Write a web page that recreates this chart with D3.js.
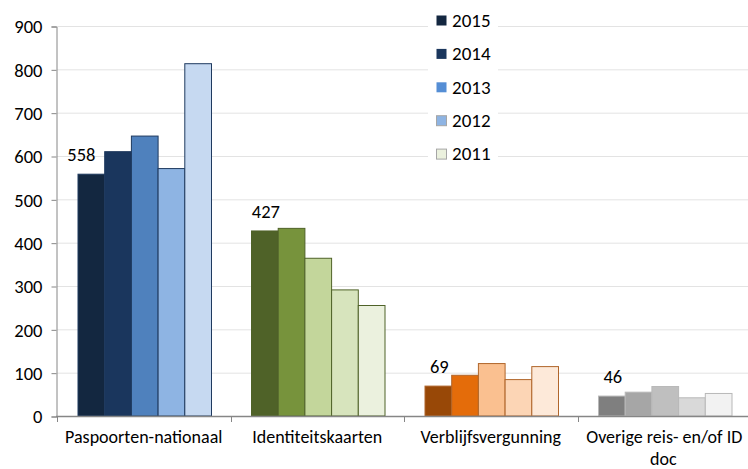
<!DOCTYPE html>
<html>
<head>
<meta charset="utf-8">
<script src="https://cdn.jsdelivr.net/npm/d3@7"></script>
<style>
  body { margin: 0; background: #fff; }
  svg text { font-family: Carlito, "Liberation Sans", Arial, sans-serif; fill: #000; }
</style>
</head>
<body>
<script>

var categories = ["Paspoorten-nationaal", "Identiteitskaarten", "Verblijfsvergunning", "Overige reis- en/of ID doc"];
var years = ["2015", "2014", "2013", "2012", "2011"];
// values per category, in year order 2015..2011
var paspoorten = [558, 610, 646, 571, 813];
var identiteit = [427, 433, 364, 291, 255];
var verblijf = [69, 94, 121, 84, 114];
var overige = [46, 55, 68, 42, 52];
var yTicks = [0, 100, 200, 300, 400, 500, 600, 700, 800, 900];

var groupColors = [
    ["#132740", "#1a365d", "#4f81bd", "#8eb4e3", "#c6d9f1"],
    ["#4f6228", "#77933c", "#c3d69b", "#d7e4bd", "#ebf1de"],
    ["#984807", "#e46c0a", "#fac090", "#fcd5b5", "#fde9d9"],
    ["#7f7f7f", "#a6a6a6", "#bfbfbf", "#d9d9d9", "#f2f2f2"]
];
var groupStroke = ["#1f3a5f", "#4f6228", "#b0652a", "#b8b8b8"];
var legendColors = ["#132740", "#1a365d", "#558ed5", "#8eb4e3", "#ebf1de"];
var legendStroke = ["none", "none", "none", "#a6a6a6", "#a6a6a6"];

var rows = [paspoorten, identiteit, verblijf, overige];

var w = 748, h = 469;
var fs = "18.5px";
var svg = d3.select("body")
    .append("svg")
    .attr("width", w)
    .attr("height", h);

var xScale = d3.scaleBand()
    .domain(categories)
    .range([57, 751]);

var xInner = d3.scaleBand()
    .domain(years)
    .range([21, 21 + 133.5]);

var yScale = d3.scaleLinear()
    .domain([0, 900])
    .range([416, 26]);

// gridlines
svg.selectAll("line.grid")
    .data(yTicks.slice(1))
    .enter()
    .append("line")
    .attr("x1", 57)
    .attr("x2", w)
    .attr("y1", function(d) { return yScale(d) + 0.5; })
    .attr("y2", function(d) { return yScale(d) + 0.5; })
    .attr("stroke", "#e3e3e3")
    .attr("stroke-width", 1);

// y axis
var yAxis = d3.axisLeft(yScale)
    .tickValues(yTicks)
    .tickSize(5)
    .tickPadding(9);
var gy = svg.append("g")
    .attr("transform", "translate(56.5,0.5)")
    .call(yAxis);
gy.selectAll("path, line").attr("stroke", "#868686");
gy.selectAll("text")
    .style("font-size", fs)
    .attr("dy", "0.35em");

// bars
var groups = svg.selectAll("g.cat")
    .data(rows)
    .enter()
    .append("g")
    .attr("class", "cat")
    .attr("transform", function(d, i) { return "translate(" + xScale(categories[i]) + ",0)"; });

groups.each(function(vals, gi) {
    d3.select(this).selectAll("rect")
        .data(vals)
        .enter()
        .append("rect")
        .attr("x", function(d, i) { return xInner(years[i]); })
        .attr("y", function(d) { return yScale(d); })
        .attr("width", xInner.bandwidth())
        .attr("height", function(d) { return yScale(0) - yScale(d); })
        .attr("fill", function(d, i) { return groupColors[gi][i]; })
        .attr("stroke", groupStroke[gi])
        .attr("stroke-width", 1);

    // label on the 2015 bar
    d3.select(this).append("text")
        .attr("x", xInner(years[0]) + xInner.bandwidth() / 2 + (gi === 0 ? -10 : 1))
        .attr("y", yScale(vals[0]) - 13)
        .attr("text-anchor", "middle")
        .style("font-size", fs)
        .text(vals[0]);
});

// x axis
svg.append("line")
    .attr("x1", 56).attr("x2", w)
    .attr("y1", 416.5).attr("y2", 416.5)
    .attr("stroke", "#868686")
    .attr("stroke-width", 1.5);

svg.selectAll("line.xtick")
    .data(categories)
    .enter()
    .append("line")
    .attr("x1", function(d) { return Math.round(xScale(d)) + 0.5; })
    .attr("x2", function(d) { return Math.round(xScale(d)) + 0.5; })
    .attr("y1", 416)
    .attr("y2", 422)
    .attr("stroke", "#868686");

var xl = svg.selectAll("text.xlab")
    .data(categories)
    .enter()
    .append("text")
    .attr("text-anchor", "middle")
    .attr("x", function(d) { return xScale(d) + xScale.bandwidth() / 2; })
    .attr("y", 443)
    .style("font-size", "18px");

xl.each(function(d) {
    var t = d3.select(this);
    var lines = d === "Overige reis- en/of ID doc" ? ["Overige reis- en/of ID", "doc"] : [d];
    lines.forEach(function(l, i) {
        t.append("tspan")
            .attr("x", xScale(d) + xScale.bandwidth() / 2 + (i === 0 ? 0 : -1))
            .attr("dy", i === 0 ? 0 : 22)
            .text(l);
    });
});

// legend
var lg = svg.append("g");
lg.append("rect")
    .attr("x", 428).attr("y", 3)
    .attr("width", 70).attr("height", 168)
    .attr("fill", "#fff");

var items = lg.selectAll("g.item")
    .data(years)
    .enter()
    .append("g")
    .attr("transform", function(d, i) { return "translate(436," + (20 + i * 33.4) + ")"; });

items.append("rect")
    .attr("x", 0.5).attr("y", -4.5)
    .attr("width", 10).attr("height", 10)
    .attr("fill", function(d, i) { return legendColors[i]; })
    .attr("stroke", function(d, i) { return legendStroke[i]; });

items.append("text")
    .attr("x", 16)
    .attr("y", 0)
    .attr("dy", "0.36em")
    .style("font-size", "19px")
    .text(function(d) { return d; });

</script>
</body>
</html>
